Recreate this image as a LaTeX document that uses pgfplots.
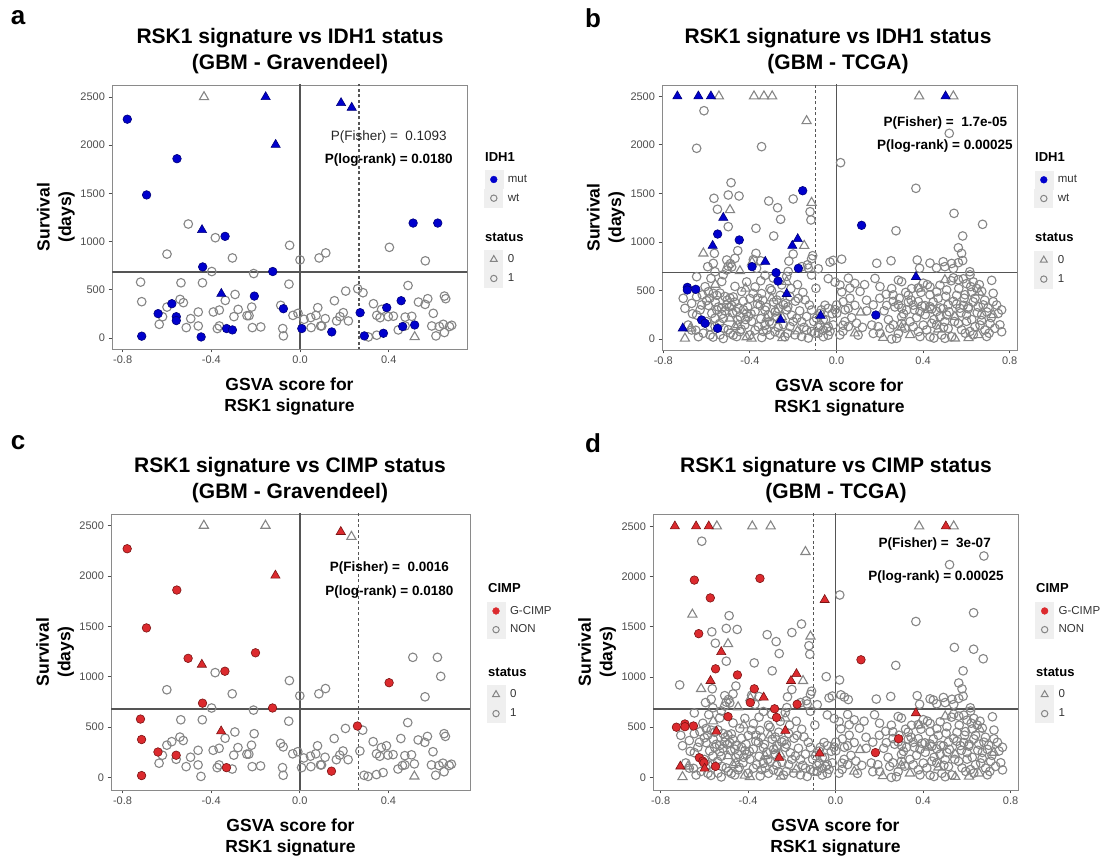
\documentclass[border=0pt]{standalone}
\usepackage{fontspec}
\setmainfont{Liberation Sans}
\usepackage{pgfplots}
\usepackage{pgfplotstable}
\pgfplotsset{compat=1.18}

\definecolor{ggblue}{HTML}{0000CD}
\definecolor{ggblueline}{HTML}{00007A}
\definecolor{ggred}{HTML}{DC2A2E}
\definecolor{ggredline}{HTML}{7A1414}
\definecolor{gggrey}{HTML}{858585}
\definecolor{ggtick}{HTML}{4D4D4D}
\definecolor{ggref}{HTML}{555555}
\definecolor{ggframe}{HTML}{8A8A8A}
\definecolor{ggkey}{HTML}{EFEFEF}

\newcommand\ttlfont{\fontsize{21}{26}\selectfont\bfseries}
\newcommand\lblfont{\fontsize{17.5}{21.5}\selectfont\bfseries}
\newcommand\tickfont{\fontsize{11}{13}\selectfont}
\newcommand\legtfont{\fontsize{13}{15}\selectfont\bfseries}
\newcommand\legfont{\fontsize{11.5}{13}\selectfont}
\newcommand\pvfont{\fontsize{13.5}{16}\selectfont}
\newcommand\letfont{\fontsize{26}{30}\selectfont\bfseries}

% Gravendeel. A (IDH1): 1 wt/status1, 2 wt/status0, 3 mut/status1, 4 mut/status0, 0 not shown
%             C (CIMP): 1 NON/status1, 2 NON/status0, 3 G-CIMP/status1, 4 G-CIMP/status0
\pgfplotstableread{
x y A C
-0.433 2500 2 2
-0.155 2500 4 2
-0.779 2270 3 3
-0.110 2005 4 4
-0.555 1860 3 3
-0.692 1484 3 3
-0.504 1182 1 3
-0.442 1120 4 4
-0.338 1054 3 3
-0.382 1040 1 1
-0.047 961 1 1
-0.600 870 1 1
-0.305 830 1 1
0.000 810 1 1
-0.439 737 3 3
-0.398 689 1 1
-0.123 689 3 3
-0.209 668 1 1
-0.719 579 1 3
-0.537 572 1 1
-0.440 572 1 1
-0.050 558 1 1
-0.355 458 4 4
-0.206 434 3 1
-0.293 451 1 1
-0.714 376 1 3
-0.578 355 3 1
-0.541 400 1 1
-0.526 366 1 1
-0.337 389 1 1
-0.600 320 1 1
-0.620 220 1 1
-0.640 252 3 3
-0.558 220 3 3
-0.558 180 3 1
-0.635 141 1 1
-0.493 200 1 1
-0.513 107 1 1
-0.459 269 1 1
-0.459 124 1 1
-0.391 269 1 1
-0.364 289 1 1
-0.279 296 1 1
-0.298 221 1 1
-0.364 124 1 1
-0.373 97 1 1
-0.331 97 3 3
-0.305 83 3 1
-0.239 231 1 1
-0.230 231 1 1
-0.218 320 1 1
-0.215 107 1 1
-0.177 114 1 1
-0.446 10 3 1
-0.714 18 3 3
-0.087 338 1 1
-0.075 303 3 1
-0.078 97 1 1
-0.075 21 1 1
-0.032 234 1 1
-0.009 255 1 1
0.008 97 3 1
0.050 107 1 1
0.018 193 1 1
0.048 211 1 1
0.072 234 1 1
0.080 314 1 1
0.114 200 1 1
0.093 124 1 1
0.143 62 3 3
0.086 830 1 1
0.116 882 1 1
0.185 2438 4 4
0.233 2390 4 2
0.510 1192 3 1
0.621 1192 3 1
0.403 940 1 3
0.565 800 1 1
0.206 486 1 1
0.260 510 1 3
0.284 469 1 1
0.487 544 1 1
0.155 386 1 1
0.271 262 3 1
0.391 314 3 1
0.456 386 3 1
0.290 21 3 1
0.376 48 3 1
0.463 118 3 1
0.517 134 3 1
0.517 10 2 2
0.534 372 1 1
0.564 348 1 1
0.576 407 1 1
0.601 255 1 1
0.651 434 1 1
0.657 407 1 1
0.646 141 1 1
0.674 118 1 1
0.628 118 1 1
0.613 21 1 1
0.651 56 1 1
0.684 131 1 1
0.180 221 1 1
0.195 262 1 1
0.218 176 1 1
0.346 234 1 1
0.361 210 1 1
0.398 221 1 1
0.421 226 1 1
0.474 216 1 1
0.504 224 1 1
0.331 355 1 1
0.368 296 1 1
0.098 124 1 1
0.165 176 1 1
0.308 10 1 1
0.346 28 1 1
0.443 83 1 1
0.594 124 1 1
0.474 124 1 1
-0.200 1237 0 3
0.636 1003 0 1
}\grav

% TCGA, same codes: B for the IDH1 panel, D for the CIMP panel
\pgfplotstableread{
x y B D
-0.735 2500 4 4
-0.638 2500 4 4
-0.580 2500 4 4
-0.543 2500 2 2
-0.381 2500 2 2
-0.335 2500 2 0
-0.297 2500 2 2
0.382 2500 2 2
0.504 2500 4 4
0.540 2500 2 2
-0.612 2351 1 1
-0.138 2245 2 2
0.521 2118 1 1
0.678 2204 0 1
-0.646 1964 1 3
-0.346 1981 1 3
0.019 1816 1 1
-0.573 1787 0 3
-0.050 1767 0 4
-0.655 1622 0 2
0.631 1639 0 1
-0.487 1610 1 1
0.367 1552 1 1
-0.156 1527 3 1
-0.566 1449 1 1
-0.500 1483 1 1
-0.450 1473 1 1
-0.626 1431 0 3
-0.550 1336 1 1
-0.492 1329 2 2
-0.313 1421 1 1
-0.272 1352 1 1
-0.200 1442 1 1
-0.115 1404 2 2
-0.122 1311 1 1
-0.118 1226 1 1
-0.258 1233 1 1
0.543 1294 1 1
0.631 1276 0 1
-0.523 1249 4 4
-0.500 1157 1 1
-0.372 1140 1 1
0.116 1171 3 3
0.675 1181 1 1
0.275 1115 1 1
-0.549 1081 3 3
-0.290 1061 1 1
0.583 1061 1 1
-0.449 1020 3 3
-0.179 1030 4 4
-0.204 961 4 4
-0.572 961 4 4
-0.149 961 2 2
0.563 940 1 1
-0.713 921 0 1
-0.043 1003 0 1
0.018 970 0 1
-0.564 882 1 1
-0.615 882 2 2
-0.372 882 1 3
-0.200 875 1 1
0.578 882 1 1
-0.110 858 1 1
-0.456 910 1 1
-0.469 831 1 1
-0.115 826 1 1
-0.507 814 1 1
-0.384 818 1 1
-0.015 810 1 1
0.024 822 1 1
0.373 814 1 1
0.583 808 1 1
-0.350 805 1 1
-0.220 802 1 1
0.252 806 1 1
-0.390 790 2 2
-0.329 796 4 4
-0.030 792 1 1
0.493 796 1 1
0.040 800 0 1
-0.490 776 1 1
-0.569 779 1 1
0.186 780 1 1
0.432 782 1 1
0.447 770 0 1
0.532 778 1 1
0.563 786 1 1
0.058 775 0 1
-0.134 764 1 1
-0.500 750 1 1
-0.595 745 1 1
-0.484 742 1 1
-0.160 745 1 1
-0.390 745 3 3
0.501 745 1 1
-0.176 728 3 3
-0.369 728 1 1
-0.130 731 1 1
-0.084 724 1 1
0.384 728 1 1
0.462 733 1 1
0.540 726 1 1
-0.507 711 1 1
-0.446 700 2 2
-0.561 693 1 1
-0.223 695 1 1
0.616 693 1 1
-0.279 683 3 3
-0.646 642 1 1
-0.230 645 1 1
0.367 640 4 4
-0.115 659 1 1
-0.523 662 1 1
-0.330 656 1 1
0.617 661 1 1
-0.580 625 1 1
-0.292 628 1 1
-0.038 622 1 1
0.055 627 1 1
0.178 624 1 1
0.540 630 1 1
0.586 620 1 1
0.501 608 2 2
0.286 606 1 1
0.563 610 1 1
0.717 604 1 1
-0.492 605 0 3
-0.270 597 3 3
-0.230 590 2 2
-0.415 588 1 1
-0.530 592 1 1
-0.007 586 1 1
0.301 591 1 1
0.632 588 1 1
0.085 573 1 1
0.401 575 1 1
0.601 570 1 1
-0.607 539 1 1
-0.469 542 1 1
-0.376 536 1 1
0.201 540 1 1
0.432 537 1 1
0.016 556 1 1
-0.253 558 1 1
0.478 554 1 1
-0.689 532 3 3
-0.689 505 3 3
-0.650 512 3 3
-0.728 500 0 3
-0.095 522 1 1
-0.307 520 1 1
0.062 524 1 1
0.347 519 1 1
0.378 526 1 1
0.648 521 1 1
0.509 505 1 1
-0.592 487 1 1
-0.438 489 1 1
0.024 485 1 1
0.109 490 1 1
0.463 486 1 1
0.671 491 1 1
0.624 482 1 1
-0.569 470 1 1
-0.538 473 1 1
-0.346 468 1 1
0.724 471 1 1
-0.230 465 4 4
-0.545 457 0 4
0.229 460 1 1
-0.553 450 1 1
0.262 454 1 1
0.332 451 1 1
0.432 455 1 1
0.555 449 1 1
0.594 456 1 1
-0.646 436 1 1
-0.515 438 1 1
-0.477 433 1 1
-0.215 437 1 1
-0.708 419 1 1
-0.492 421 1 1
-0.400 417 1 1
-0.364 422 1 1
-0.176 418 1 1
0.062 420 1 1
-0.276 402 1 1
-0.145 404 1 1
0.139 400 1 1
0.288 385 0 3
0.031 384 1 1
0.262 387 1 1
0.332 381 1 1
0.378 386 1 1
0.447 382 1 1
0.540 388 1 1
0.632 383 1 1
0.724 385 1 1
-0.669 367 1 1
-0.235 367 1 1
-0.623 350 1 1
-0.592 346 1 1
-0.507 352 1 1
-0.484 345 1 1
-0.353 349 1 1
-0.246 353 1 1
-0.053 348 1 1
0.001 352 1 1
0.085 347 1 1
0.170 351 1 1
0.232 346 1 1
0.286 353 1 1
0.355 349 1 1
0.409 344 1 1
0.516 352 1 1
0.586 347 1 1
0.678 351 1 1
0.432 333 1 1
0.655 331 1 1
-0.700 316 1 1
-0.530 318 1 1
-0.269 314 1 1
-0.038 317 1 1
0.055 315 1 1
0.301 318 1 1
0.493 313 1 1
0.570 317 1 1
0.609 312 1 1
-0.553 299 1 1
-0.430 301 1 1
-0.330 297 1 1
-0.230 300 1 1
-0.115 298 1 1
-0.007 302 1 1
0.324 299 1 1
0.424 299 2 2
0.763 300 1 1
-0.461 281 1 1
-0.376 283 1 1
-0.284 279 1 1
-0.276 282 2 2
0.386 281 1 1
0.463 284 1 1
0.694 280 1 1
0.112 275 2 2
-0.576 264 1 1
-0.415 266 1 1
-0.076 262 1 1
0.001 265 1 1
0.747 263 1 1
-0.646 247 1 1
-0.315 249 1 1
-0.207 245 1 1
0.182 247 3 3
0.509 248 1 1
0.601 246 1 1
0.671 249 1 1
0.724 247 2 2
-0.073 240 4 4
-0.407 230 1 1
-0.138 232 1 1
0.301 229 1 1
0.478 231 1 1
0.547 230 2 2
-0.253 230 2 2
-0.322 215 2 2
-0.492 213 2 2
-0.561 214 1 1
-0.523 211 1 1
-0.184 213 1 1
-0.092 215 1 1
-0.623 196 3 3
-0.258 196 4 4
-0.457 196 1 1
-0.061 198 1 1
-0.600 179 1 1
-0.392 181 1 1
-0.161 178 1 1
0.039 180 1 1
0.501 179 1 1
0.601 182 1 1
-0.607 162 3 3
-0.602 145 0 3
-0.299 161 1 1
0.093 163 1 1
0.301 160 1 1
0.440 162 1 1
0.563 159 1 1
0.709 161 1 1
-0.685 144 1 1
-0.456 144 2 2
-0.423 146 1 1
-0.076 143 1 1
-0.015 145 1 1
0.030 142 1 1
0.163 144 1 1
0.262 146 1 1
0.401 143 1 1
0.463 145 1 1
0.663 144 1 1
0.755 146 1 1
-0.584 127 1 1
-0.561 129 1 1
-0.469 127 2 2
-0.361 126 1 1
-0.215 128 1 1
-0.038 125 1 1
0.055 128 1 1
0.193 127 1 1
0.355 126 1 1
0.640 128 1 1
-0.675 110 2 2
-0.710 110 4 4
-0.549 110 3 3
-0.045 111 1 1
0.247 110 1 1
0.316 112 1 1
0.516 109 1 1
0.732 110 1 1
-0.669 93 1 1
-0.500 95 1 1
-0.376 92 1 1
-0.322 94 1 1
-0.138 93 1 1
-0.061 91 1 1
0.417 93 1 1
0.578 95 1 1
0.686 92 1 1
-0.599 89 0 4
-0.446 76 1 1
-0.338 78 1 1
-0.284 75 1 1
-0.115 77 1 1
0.378 76 1 1
0.617 78 1 1
0.763 75 1 1
-0.261 58 1 1
-0.084 60 1 1
0.170 57 1 1
0.201 60 1 1
0.286 58 1 1
0.085 59 2 2
-0.584 41 1 1
-0.538 43 1 1
-0.477 40 1 1
-0.400 42 1 1
-0.307 41 1 1
-0.192 43 1 1
-0.038 40 1 1
0.016 42 1 1
0.486 41 1 1
0.632 43 1 1
0.340 41 2 2
0.655 41 2 2
-0.638 24 1 1
-0.461 25 1 1
-0.238 23 1 1
-0.161 26 1 1
-0.061 24 1 1
0.386 25 1 1
0.432 23 1 1
0.532 24 1 1
0.694 26 1 1
0.216 14 2 2
-0.700 5 2 2
-0.392 5 2 2
-0.523 5 1 1
0.278 7 1 1
0.501 7 1 1
0.547 7 2 2
0.255 0 1 1
-0.620 455 1 1
-0.600 395 1 1
-0.585 420 1 1
-0.560 380 1 1
-0.545 330 1 1
-0.530 255 1 1
-0.515 290 1 1
-0.505 400 1 1
-0.495 330 1 1
-0.480 270 1 1
-0.470 380 1 1
-0.455 320 1 1
-0.445 230 1 1
-0.430 390 1 1
-0.420 200 1 1
-0.410 330 1 1
-0.395 260 1 1
-0.385 470 1 1
-0.365 360 1 1
-0.350 210 1 1
-0.340 400 1 1
-0.325 330 1 1
-0.310 180 1 1
-0.300 500 1 1
-0.290 380 1 1
-0.275 230 1 1
-0.260 450 1 1
-0.245 150 1 1
-0.225 330 1 1
-0.210 520 1 1
-0.200 180 1 1
-0.190 390 1 1
-0.170 290 1 1
-0.155 480 1 1
-0.150 120 1 1
-0.125 350 1 1
-0.105 180 1 1
-0.100 60 1 1
-0.085 120 1 1
-0.070 300 1 1
-0.050 200 1 1
-0.030 80 1 1
-0.020 260 1 1
-0.665 260 1 1
-0.650 90 1 1
-0.630 300 1 1
-0.615 60 1 1
-0.570 20 1 1
-0.540 160 1 1
-0.520 110 1 1
-0.490 60 1 1
-0.440 100 1 1
-0.415 20 2 2
-0.345 15 1 1
-0.330 140 1 1
-0.270 120 1 1
-0.250 10 2 2
-0.225 60 1 1
-0.180 80 2 2
-0.130 10 1 1
-0.560 560 2 2
-0.420 520 2 2
-0.350 600 1 1
-0.180 560 1 1
-0.300 420 2 2
0.200 420 1 1
0.220 290 1 1
0.240 200 1 1
0.255 520 1 1
0.270 330 1 1
0.290 420 1 1
0.310 260 1 1
0.320 480 1 1
0.340 180 1 1
0.345 400 1 1
0.360 300 1 1
0.370 220 1 1
0.390 480 1 1
0.395 340 1 1
0.410 250 1 1
0.420 560 1 1
0.440 310 1 1
0.450 200 1 1
0.470 420 1 1
0.480 320 1 1
0.495 120 1 1
0.505 440 1 1
0.520 280 1 1
0.530 600 1 1
0.545 180 1 1
0.555 360 1 1
0.565 520 1 1
0.575 270 1 1
0.590 420 1 1
0.595 60 1 1
0.610 330 1 1
0.620 540 1 1
0.625 200 1 1
0.640 420 1 1
0.650 270 1 1
0.660 560 1 1
0.670 190 1 1
0.685 400 1 1
0.700 320 1 1
0.705 60 1 1
0.715 220 1 1
0.740 350 1 1
0.120 120 1 1
0.140 290 1 1
0.100 40 1 1
0.070 220 1 1
0.040 300 1 1
0.030 80 1 1
0.130 560 1 1
0.610 10 2 2
0.450 10 1 1
0.380 520 2 2
0.300 120 2 2
0.660 480 2 2
0.470 100 2 2
}\tcga

\pgfplotsset{
  only cat/.style 2 args={restrict expr to domain={\thisrow{#1}}{#2:#2}},
  ocirc/.style={only marks, mark=o, mark size=4.3pt, color=gggrey, line width=1.1pt},
  otri/.style={only marks, mark=triangle, mark size=5.3pt, color=gggrey, line width=1.1pt},
  bcirc/.style={only marks, mark=*, mark size=4.3pt, draw=ggblueline, fill=ggblue, line width=0.6pt},
  btri/.style={only marks, mark=triangle*, mark size=5.3pt, draw=ggblueline, fill=ggblue, line width=0.6pt},
  rcirc/.style={only marks, mark=*, mark size=4.3pt, draw=ggredline, fill=ggred, line width=0.6pt},
  rtri/.style={only marks, mark=triangle*, mark size=5.3pt, draw=ggredline, fill=ggred, line width=0.6pt},
  lcirc/.style={only marks, mark=o, mark size=3.2pt, color=gggrey, line width=1pt},
  ltri/.style={only marks, mark=triangle, mark size=4pt, color=gggrey, line width=1pt},
  lblue/.style={only marks, mark=*, mark size=3.4pt, draw=ggblue, fill=ggblue},
  lred/.style={only marks, mark=*, mark size=3.4pt, draw=ggred, fill=ggred},
  refline/.style={color=ggref, line width=1.4pt, forget plot},
  refdash/.style={color=ggref, line width=1.1pt, dash pattern=on 3pt off 2.5pt, forget plot},
  ggax/.style={
    scale only axis, anchor=south west,
    axis line style={draw=ggframe, line width=0.9pt},
    tick style={draw=ggtick, line width=0.8pt},
    tick align=outside, major tick length=3.5pt, tick pos=left,
    xtick={-0.8,-0.4,0,0.4,0.8}, ytick={0,500,1000,1500,2000,2500},
    xticklabel={\pgfmathprintnumber[fixed,fixed zerofill,precision=1]{\tick}},
    /pgf/number format/assume math mode=true,
    /pgf/number format/1000 sep={},
    ticklabel style={font=\tickfont, text=ggtick},
    xlabel style={font=\lblfont, align=center, anchor=center},
    ylabel style={font=\lblfont, align=center, anchor=center},
    legend cell align=left,
    legend style={draw=none, fill=none, anchor=north west, inner sep=0pt, outer sep=0pt,
      row sep=0pt, column sep=4.5pt, nodes={inner sep=0pt, outer sep=0pt, font=\legfont, text=black!80}},
    legend image code/.code={\fill[ggkey] (-9pt,-9pt) rectangle (9pt,9pt);
      \draw[##1] plot coordinates {(0pt,0pt)};},
  },
}

\begin{document}
\begin{tikzpicture}
\useasboundingbox (0,0) rectangle (1117pt,866pt);

% ---------------- a ----------------
\begin{axis}[ggax, at={(112pt,517pt)}, width=355pt, height=264pt,
  xmin=-0.848, xmax=0.753, ymin=-115, ymax=2625,
  xlabel={GSVA score for\\RSK1 signature}, ylabel={Survival\\(days)},
  xlabel style={at={(axis description cs:0.5,-0.18)}},
  ylabel style={at={(axis description cs:-0.158,0.5)}},
  legend style={at={(1.0487,0.6769)}}]
\addplot[refline] coordinates {(0,-300) (0,3000)};
\addplot[refline] coordinates {(-1,682) (1,682)};
\addplot[refdash] coordinates {(0.266,-300) (0.266,3000)};
\addplot[ocirc, forget plot, only cat={A}{1}] table[x=x,y=y] {\grav};
\addplot[otri, forget plot, only cat={A}{2}] table[x=x,y=y] {\grav};
\addplot[bcirc, forget plot, only cat={A}{3}] table[x=x,y=y] {\grav};
\addplot[btri, forget plot, only cat={A}{4}] table[x=x,y=y] {\grav};
\node[font=\pvfont, text=black!85] at (axis cs:0.40,2087) {P(Fisher) = \ 0.1093};
\node[font=\pvfont\bfseries] at (axis cs:0.40,1846) {P(log-rank) = 0.0180};
\addlegendimage{lblue}\addlegendentry{mut}
\addlegendimage{lcirc}\addlegendentry{wt}
\end{axis}
\begin{axis}[ggax, hide axis, at={(112pt,517pt)}, width=355pt, height=264pt,
  xmin=-0.848, xmax=0.753, ymin=-115, ymax=2625, legend style={at={(1.0487,0.375)}}]
\addlegendimage{ltri}\addlegendentry{0}
\addlegendimage{lcirc}\addlegendentry{1}
\end{axis}

% ---------------- b ----------------
\begin{axis}[ggax, at={(662pt,516pt)}, width=355pt, height=265pt,
  xmin=-0.806, xmax=0.834, ymin=-113, ymax=2616,
  xlabel={GSVA score for\\RSK1 signature}, ylabel={Survival\\(days)},
  xlabel style={at={(axis description cs:0.5,-0.18)}},
  ylabel style={at={(axis description cs:-0.158,0.5)}},
  legend style={at={(1.0487,0.6769)}}]
\addplot[refline] coordinates {(0,-300) (0,3000)};
\addplot[refline] coordinates {(-1,684) (1,684)};
\addplot[refdash] coordinates {(-0.097,-300) (-0.097,3000)};
\addplot[ocirc, forget plot, only cat={B}{1}] table[x=x,y=y] {\tcga};
\addplot[otri, forget plot, only cat={B}{2}] table[x=x,y=y] {\tcga};
\addplot[bcirc, forget plot, only cat={B}{3}] table[x=x,y=y] {\tcga};
\addplot[btri, forget plot, only cat={B}{4}] table[x=x,y=y] {\tcga};
\node[font=\pvfont\bfseries] at (axis cs:0.503,2221) {P(Fisher) = \ 1.7e-05};
\node[font=\pvfont\bfseries] at (axis cs:0.501,1988) {P(log-rank) = 0.00025};
\addlegendimage{lblue}\addlegendentry{mut}
\addlegendimage{lcirc}\addlegendentry{wt}
\end{axis}
\begin{axis}[ggax, hide axis, at={(662pt,516pt)}, width=355pt, height=265pt,
  xmin=-0.806, xmax=0.834, ymin=-113, ymax=2616, legend style={at={(1.0487,0.375)}}]
\addlegendimage{ltri}\addlegendentry{0}
\addlegendimage{lcirc}\addlegendentry{1}
\end{axis}

% ---------------- c ----------------
\begin{axis}[ggax, at={(111pt,76pt)}, width=359pt, height=276pt,
  xmin=-0.852, xmax=0.768, ymin=-125, ymax=2615,
  xlabel={GSVA score for\\RSK1 signature}, ylabel={Survival\\(days)},
  xlabel style={at={(axis description cs:0.5,-0.172)}},
  ylabel style={at={(axis description cs:-0.156,0.5)}},
  legend style={at={(1.046,0.682)}}]
\addplot[refline] coordinates {(0,-300) (0,3000)};
\addplot[refline] coordinates {(-1,681) (1,681)};
\addplot[refdash] coordinates {(0.264,-300) (0.264,3000)};
\addplot[ocirc, forget plot, only cat={C}{1}] table[x=x,y=y] {\grav};
\addplot[otri, forget plot, only cat={C}{2}] table[x=x,y=y] {\grav};
\addplot[rcirc, forget plot, only cat={C}{3}] table[x=x,y=y] {\grav};
\addplot[rtri, forget plot, only cat={C}{4}] table[x=x,y=y] {\grav};
\node[font=\pvfont\bfseries] at (axis cs:0.404,2076) {P(Fisher) = \ 0.0016};
\node[font=\pvfont\bfseries] at (axis cs:0.404,1842) {P(log-rank) = 0.0180};
\addlegendimage{lred}\addlegendentry{G-CIMP}
\addlegendimage{lcirc}\addlegendentry{NON}
\end{axis}
\begin{axis}[ggax, hide axis, at={(111pt,76pt)}, width=359pt, height=276pt,
  xmin=-0.852, xmax=0.768, ymin=-125, ymax=2615, legend style={at={(1.046,0.380)}}]
\addlegendimage{ltri}\addlegendentry{0}
\addlegendimage{lcirc}\addlegendentry{1}
\end{axis}

% ---------------- d ----------------
\begin{axis}[ggax, at={(653pt,76pt)}, width=365pt, height=276pt,
  xmin=-0.835, xmax=0.834, ymin=-125, ymax=2622,
  xlabel={GSVA score for\\RSK1 signature}, ylabel={Survival\\(days)},
  xlabel style={at={(axis description cs:0.5,-0.172)}},
  ylabel style={at={(axis description cs:-0.153,0.5)}},
  legend style={at={(1.047,0.682)}}]
\addplot[refline] coordinates {(0,-300) (0,3000)};
\addplot[refline] coordinates {(-1,681) (1,681)};
\addplot[refdash] coordinates {(-0.1,-300) (-0.1,3000)};
\addplot[ocirc, forget plot, only cat={D}{1}] table[x=x,y=y] {\tcga};
\addplot[otri, forget plot, only cat={D}{2}] table[x=x,y=y] {\tcga};
\addplot[rcirc, forget plot, only cat={D}{3}] table[x=x,y=y] {\tcga};
\addplot[rtri, forget plot, only cat={D}{4}] table[x=x,y=y] {\tcga};
\node[font=\pvfont\bfseries] at (axis cs:0.453,2323) {P(Fisher) = \ 3e-07};
\node[font=\pvfont\bfseries] at (axis cs:0.459,1990) {P(log-rank) = 0.00025};
\addlegendimage{lred}\addlegendentry{G-CIMP}
\addlegendimage{lcirc}\addlegendentry{NON}
\end{axis}
\begin{axis}[ggax, hide axis, at={(653pt,76pt)}, width=365pt, height=276pt,
  xmin=-0.835, xmax=0.834, ymin=-125, ymax=2622, legend style={at={(1.047,0.380)}}]
\addlegendimage{ltri}\addlegendentry{0}
\addlegendimage{lcirc}\addlegendentry{1}
\end{axis}

% titles, panel letters, legend titles
\node[font=\letfont] at (18pt,848pt) {a};
\node[font=\letfont] at (593pt,848pt) {b};
\node[font=\letfont] at (18pt,423pt) {c};
\node[font=\letfont] at (593pt,423pt) {d};
\node[font=\ttlfont, align=center] at (290pt,815pt) {RSK1 signature vs IDH1 status\\(GBM - Gravendeel)};
\node[font=\ttlfont, align=center] at (838pt,815pt) {RSK1 signature vs IDH1 status\\(GBM - TCGA)};
\node[font=\ttlfont, align=center] at (290pt,386pt) {RSK1 signature vs CIMP status\\(GBM - Gravendeel)};
\node[font=\ttlfont, align=center] at (836pt,386pt) {RSK1 signature vs CIMP status\\(GBM - TCGA)};
\node[font=\legtfont, anchor=west, inner sep=0pt] at (485pt,709pt) {IDH1};
\node[font=\legtfont, anchor=west, inner sep=0pt] at (485pt,629pt) {status};
\node[font=\legtfont, anchor=west, inner sep=0pt] at (1035pt,709pt) {IDH1};
\node[font=\legtfont, anchor=west, inner sep=0pt] at (1035pt,629pt) {status};
\node[font=\legtfont, anchor=west, inner sep=0pt] at (488pt,278pt) {CIMP};
\node[font=\legtfont, anchor=west, inner sep=0pt] at (488pt,194pt) {status};
\node[font=\legtfont, anchor=west, inner sep=0pt] at (1036pt,278pt) {CIMP};
\node[font=\legtfont, anchor=west, inner sep=0pt] at (1036pt,194pt) {status};
\end{tikzpicture}
\end{document}
